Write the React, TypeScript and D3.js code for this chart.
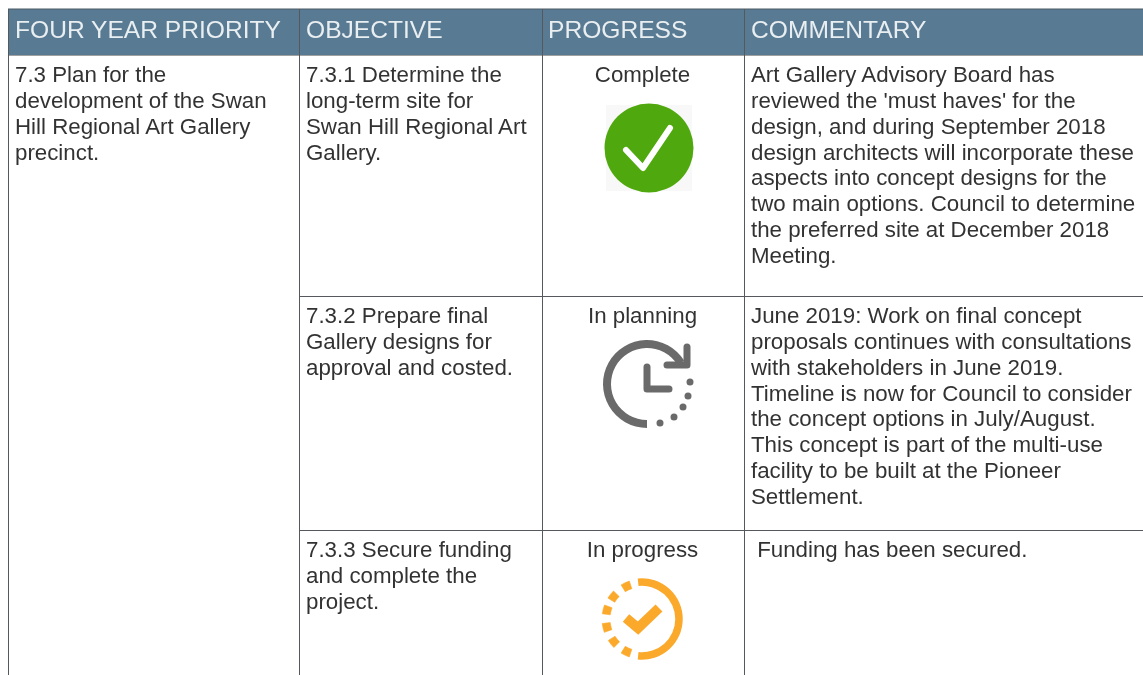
import React from "react";
import * as d3 from "d3";

const headers = ["FOUR YEAR PRIORITY", "OBJECTIVE", "PROGRESS", "COMMENTARY"];
const priorityLines = ["7.3 Plan for the", "development of the Swan", "Hill Regional Art Gallery", "precinct."];
const objectives = [
  ["7.3.1 Determine the", "long-term site for", "Swan Hill Regional Art", "Gallery."],
  ["7.3.2 Prepare final", "Gallery designs for", "approval and costed."],
  ["7.3.3 Secure funding", "and complete the", "project."],
];
const progress = ["Complete", "In planning", "In progress"];
const commentary = [
  ["Art Gallery Advisory Board has", "reviewed the 'must haves' for the", "design, and during September 2018", "design architects will incorporate these", "aspects into concept designs for the", "two main options. Council to determine", "the preferred site at December 2018", "Meeting."],
  ["June 2019: Work on final concept", "proposals continues with consultations", "with stakeholders in June 2019.", "Timeline is now for Council to consider", "the concept options in July/August.", "This concept is part of the multi-use", "facility to be built at the Pioneer", "Settlement."],
  [" Funding has been secured."],
];
const columnEdges = [8.5, 299.5, 542.5, 744.5];
const textX = [15, 306, 548, 751];
const rowEdges = [55, 296, 530, 675];

const FONT = "'Liberation Sans', Arial, sans-serif";
const INK = "#333333";
const RULE = "#55595c";
const arc = d3.arc();
const rad = (deg: number) => (deg * Math.PI) / 180;
const arcPath = (r: number, w: number, a0: number, a1: number) =>
  arc({ innerRadius: r - w / 2, outerRadius: r + w / 2, startAngle: rad(a0), endAngle: rad(a1) }) as string;
const line = d3.line();

const planDots: [number, number][] = [[43, -2], [41, 12], [36, 23], [27, 33], [13, 39]];
const progDashAngles = [205, 231, 257, 284, 308, 335];

function Lines({ lines, xPos, y0, anchor }: { lines: string[]; xPos: number; y0: number; anchor?: string }) {
  return (
    <>
      {lines.map((t, i) => (
        <text key={i} x={xPos} y={y0 + i * 25.85} textAnchor={anchor as any} style={{ whiteSpace: "pre" }} fontFamily={FONT} fontSize={22.3} fill={INK}>
          {t}
        </text>
      ))}
    </>
  );
}

export default function App() {
  return (
    <svg width={1143} height={675} style={{ position: "absolute", left: 0, top: 0 }}>
      <defs>
        <filter id="soft" x="0" y="0" width="100%" height="100%">
          <feGaussianBlur stdDeviation={0.4} />
        </filter>
      </defs>
      <rect x={0} y={0} width={1143} height={675} fill="#fff" />
      <g filter="url(#soft)">
        <rect x={0} y={0} width={1143} height={675} fill="#fff" />
        <rect x={8} y={9} width={1135} height={46} fill="#587a93" />
        <line x1={8} x2={1143} y1={9} y2={9} stroke="#4a5a66" strokeWidth={1} />
        <line x1={8} x2={1143} y1={55.5} y2={55.5} stroke="#a0a0a0" strokeWidth={1} />
        {headers.map((h, i) => (
          <text key={h} x={textX[i]} y={38} fontFamily={FONT} fontSize={24.6} fill="#e9eef1">{h}</text>
        ))}
        {columnEdges.map((c, i) => (
          <line key={i} x1={c} x2={c} y1={9} y2={675} stroke={RULE} strokeWidth={1} />
        ))}
        {[1, 2].map((i) => (
          <line key={i} x1={columnEdges[1]} x2={1143} y1={rowEdges[i] + 0.5} y2={rowEdges[i] + 0.5} stroke={RULE} strokeWidth={1} />
        ))}
        <Lines lines={priorityLines} xPos={textX[0]} y0={82} />
        {objectives.map((o, i) => (
          <Lines key={i} lines={o} xPos={textX[1]} y0={rowEdges[i] + 27} />
        ))}
        {progress.map((p, i) => (
          <Lines key={i} lines={[p]} xPos={642.5} y0={rowEdges[i] + 27} anchor="middle" />
        ))}
        {commentary.map((c, i) => (
          <Lines key={i} lines={c} xPos={textX[3]} y0={rowEdges[i] + 27} />
        ))}

        <g transform="translate(649,148)">
          <rect x={-43} y={-43} width={86} height={86} fill="#f8f8f8" />
          <circle r={44.5} fill="#4fa80b" />
          <path d={line([[-23, 2], [-6, 20], [21, -20]]) as string} fill="none" stroke="#fff" strokeWidth={6} strokeLinecap="round" strokeLinejoin="round" />
        </g>

        <g transform="translate(647,384)" fill="#6b6b6b" stroke="#6b6b6b">
          <path d={arcPath(40, 8, 180, 360 + 58)} stroke="none" />
          <path d={line([[0, -17], [0, 5], [22, 5]]) as string} fill="none" strokeWidth={7} strokeLinecap="round" strokeLinejoin="round" />
          <path d={line([[40, -37], [40, -19], [20, -19]]) as string} fill="none" strokeWidth={7} strokeLinecap="round" strokeLinejoin="round" />
          {planDots.map(([dx, dy], i) => (
            <circle key={i} cx={dx} cy={dy} r={3.5} stroke="none" />
          ))}
        </g>

        <g transform="translate(642,619)" fill="#fba92c" stroke="#fba92c">
          <path d={arcPath(37, 7.5, -6, 186)} stroke="none" />
          {progDashAngles.map((a) => (
            <path key={a} d={arcPath(36, 8, a - 6.5, a + 6.5)} strokeWidth={0.6} />
          ))}
          <path d={line([[-16, -1], [-4, 9], [17, -11]]) as string} fill="none" strokeWidth={10} />
        </g>
      </g>
    </svg>
  );
}
